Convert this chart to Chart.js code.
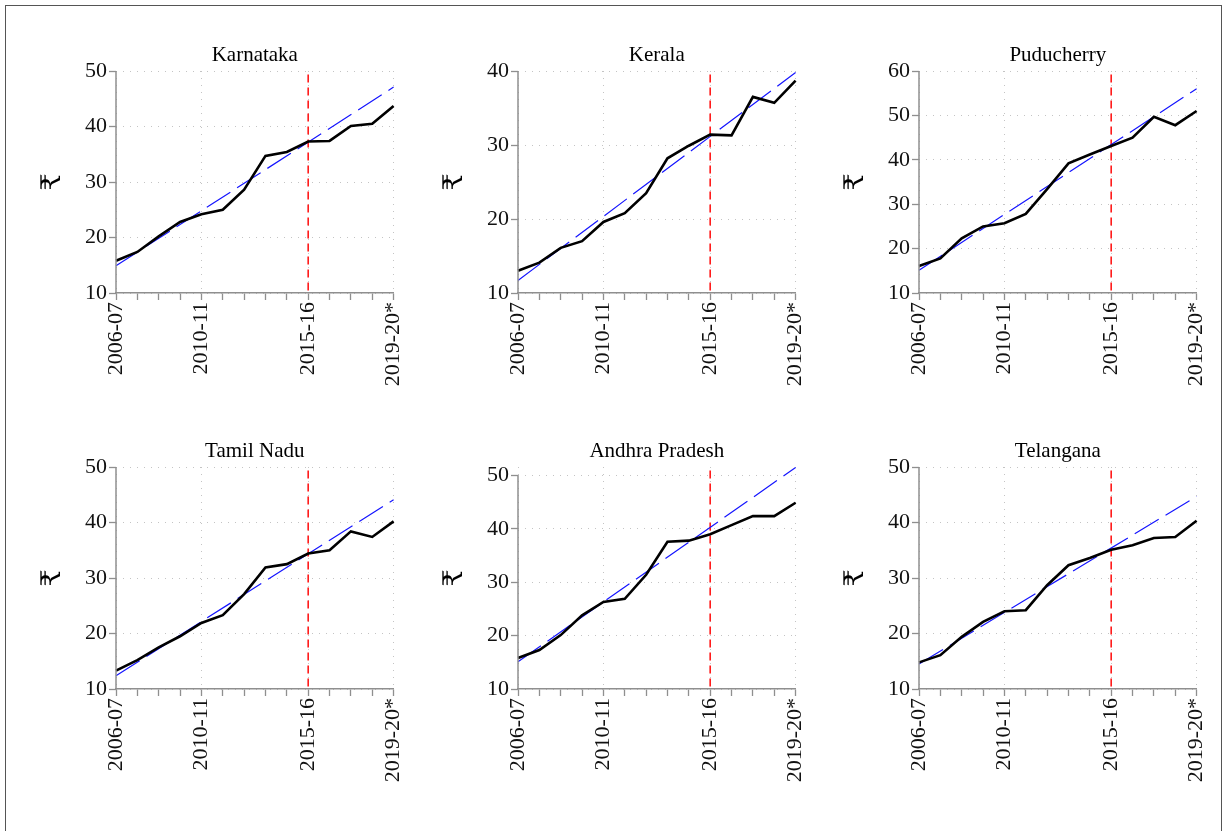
<!DOCTYPE html>
<html>
<head>
<meta charset="utf-8">
<script src="https://cdn.jsdelivr.net/npm/chart.js@4.4.0/dist/chart.umd.min.js"></script>
<style>
  body { margin: 0; background: #fff; overflow: hidden; }
  #frame { position: absolute; left: 5px; top: 5px; width: 1217px; height: 840px; border: 1.5px solid #555; box-sizing: border-box; }
  canvas { position: absolute; }
</style>
</head>
<body>
<div id="frame"></div>
<div id="panels"></div>
<script>
const years = ["2006-07", "2007-08", "2008-09", "2009-10", "2010-11", "2011-12", "2012-13",
  "2013-14", "2014-15", "2015-16", "2016-17", "2017-18", "2018-19", "2019-20*"];
const shownYears = ["2006-07", "2010-11", "2015-16", "2019-20*"];
const breakYear = "2015-16";

const karnataka = [15.8, 17.4, 20.2, 22.8, 24.2, 25.0, 28.6, 34.7, 35.4, 37.3, 37.4, 40.1, 40.5, 43.7];
const karnatakaTrend = [14.9, null, null, null, null, null, null, null, null, null, null, null, null, 47.1];
const kerala = [13.0, 14.1, 16.1, 17.0, 19.6, 20.8, 23.5, 28.2, 29.9, 31.4, 31.3, 36.5, 35.7, 38.7];
const keralaTrend = [11.7, null, null, null, null, null, null, null, null, null, null, null, null, 39.8];
const puducherry = [16.1, 17.8, 22.3, 25.0, 25.7, 27.8, 33.4, 39.2, 41.2, 43.1, 45.0, 49.7, 47.8, 51.0];
const puducherryTrend = [15.1, null, null, null, null, null, null, null, null, null, null, null, null, 56.0];
const tamilNadu = [13.3, 15.2, 17.5, 19.5, 21.9, 23.3, 27.1, 31.9, 32.5, 34.4, 35.0, 38.4, 37.4, 40.2];
const tamilNaduTrend = [12.4, null, null, null, null, null, null, null, null, null, null, null, null, 44.1];
const andhra = [15.8, 17.3, 20.1, 23.8, 26.3, 26.9, 31.4, 37.6, 37.8, 39.0, 40.7, 42.4, 42.4, 44.9];
const andhraTrend = [15.1, null, null, null, null, null, null, null, null, null, null, null, null, 51.5];
const telangana = [14.8, 16.1, 19.4, 22.1, 24.0, 24.2, 28.7, 32.3, 33.6, 35.1, 35.9, 37.2, 37.4, 40.3];
const telanganaTrend = [14.5, null, null, null, null, null, null, null, null, null, null, null, null, 44.7];

const panels = [
  { title: "Karnataka", values: karnataka, trend: karnatakaTrend, yMin: 10, yMax: 50 },
  { title: "Kerala", values: kerala, trend: keralaTrend, yMin: 10, yMax: 40 },
  { title: "Puducherry", values: puducherry, trend: puducherryTrend, yMin: 10, yMax: 60 },
  { title: "Tamil Nadu", values: tamilNadu, trend: tamilNaduTrend, yMin: 10, yMax: 50 },
  { title: "Andhra Pradesh", values: andhra, trend: andhraTrend, yMin: 10, yMax: 51.6 },
  { title: "Telangana", values: telangana, trend: telanganaTrend, yMin: 10, yMax: 50 },
];

const serif = "'Liberation Serif', 'Times New Roman', 'DejaVu Serif', serif";
const axisGray = "#8f8f8f";
const gridGray = "#c4c4c4";

// plot area positions
const colLeft = [116, 518, 919];
const rowTop = [70.7, 466.5];
const areaW = 277.5;
const areaH = 222.6;
const yAxisW = 80;
const xAxisH = 100;
const topSpace = 45;
const rightSpace = 28.5; // chart.js keeps room for the last rotated label

// red break line + y axis line
const extraLines = {
  id: "extraLines",
  beforeDatasetsDraw(chart) {
    const { ctx, chartArea, scales } = chart;
    const x = scales.x.getPixelForValue(years.indexOf(breakYear));
    ctx.save();
    ctx.strokeStyle = "#ff1a1a";
    ctx.lineWidth = 1.6;
    ctx.setLineDash([8, 5]);
    ctx.beginPath();
    ctx.moveTo(x, chartArea.top + 3.5);
    ctx.lineTo(x, chartArea.bottom);
    ctx.stroke();
    ctx.restore();
  },
  afterDraw(chart) {
    const { ctx, chartArea, scales } = chart;
    const ticks = scales.y.ticks;
    ctx.save();
    ctx.strokeStyle = axisGray;
    ctx.lineWidth = 1.5;
    ctx.beginPath();
    ctx.moveTo(chartArea.left, scales.y.getPixelForValue(ticks[0].value) + 0.75);
    ctx.lineTo(chartArea.left, scales.y.getPixelForValue(ticks[ticks.length - 1].value));
    ctx.stroke();
    ctx.restore();
  },
};

const holder = document.getElementById("panels");
panels.forEach((p, i) => {
  const col = i % 3;
  const row = Math.floor(i / 3);
  const canvas = document.createElement("canvas");
  canvas.width = yAxisW + areaW + rightSpace;
  canvas.height = topSpace + areaH + xAxisH;
  canvas.style.left = (colLeft[col] - yAxisW) + "px";
  canvas.style.top = (rowTop[row] - topSpace) + "px";
  holder.appendChild(canvas);

  new Chart(canvas, {
    type: "line",
    data: {
      labels: years,
      datasets: [
        {
          data: p.values,
          borderColor: "#000",
          borderWidth: 2.6,
          pointRadius: 0,
          tension: 0,
        },
        {
          data: p.trend,
          borderColor: "#1515ff",
          borderWidth: 1.2,
          borderDash: [28, 8],
          pointRadius: 0,
          spanGaps: true,
        },
      ],
    },
    options: {
      responsive: false,
      animation: false,
      layout: { padding: 0 },
      plugins: {
        legend: { display: false },
        tooltip: { enabled: false },
        title: {
          display: true,
          text: p.title,
          fullSize: false,
          color: "#000",
          font: { family: serif, size: 21, weight: "normal" },
          padding: { top: 16.7, bottom: 3.1 },
        },
      },
      scales: {
        x: {
          afterFit: (s) => { s.height = xAxisH; },
          border: { display: true, color: axisGray, width: 1.5, dash: [1, 6] },
          grid: {
            color: (c) => shownYears.includes(years[c.index]) ? gridGray : "rgba(0,0,0,0)",
            lineWidth: 1,
            tickColor: axisGray,
            tickWidth: 1.3,
            tickLength: 7,
            tickBorderDash: [],
          },
          ticks: {
            autoSkip: false,
            maxRotation: 90,
            minRotation: 90,
            padding: 2,
            color: "#111",
            font: { family: serif, size: 22 },
            callback: (v, idx) => shownYears.includes(years[idx]) ? years[idx] : "",
          },
        },
        y: {
          min: p.yMin,
          max: p.yMax,
          afterFit: (s) => { s.width = yAxisW; },
          border: { display: false, dash: [1, 6] },
          grid: {
            color: gridGray,
            lineWidth: 1,
            tickColor: axisGray,
            tickWidth: 1.3,
            tickLength: 7,
            tickBorderDash: [],
          },
          ticks: {
            stepSize: 10,
            includeBounds: false,
            padding: 2,
            color: "#111",
            font: { family: serif, size: 22 },
          },
          title: {
            display: true,
            text: "₹",
            color: "#000",
            font: { family: serif, size: 27, lineHeight: 1 },
            padding: { top: 3.5, bottom: 0 },
          },
        },
      },
    },
    plugins: [extraLines],
  });
});
</script>
</body>
</html>
